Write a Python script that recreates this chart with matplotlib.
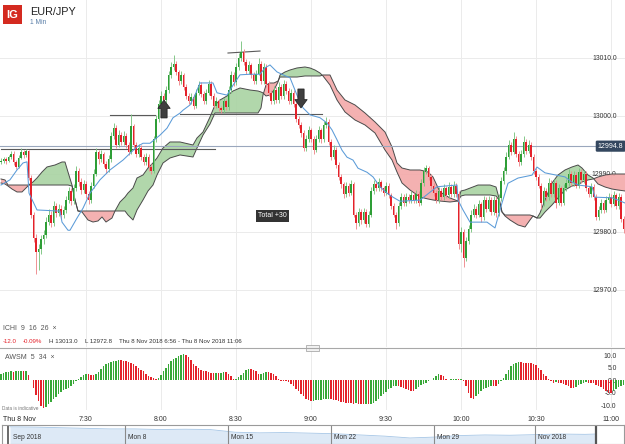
import numpy as np
import matplotlib
matplotlib.use('Agg')
import matplotlib.pyplot as plt
from matplotlib.patches import Polygon, Rectangle
from matplotlib.lines import Line2D
import matplotlib.transforms as mtransforms

plt.rcParams['font.family'] = ['Liberation Sans', 'DejaVu Sans']

# ---------------- data ----------------
symbol = "EUR/JPY"
interval = "1 Min"
start_time = (6, 56)
time_labels = ['7:30', '8:00', '8:30', '9:00', '9:30', '10:00', '10:30', '11:00']
price_ticks = [12970.0, 12980.0, 12990.0, 13000.0, 13010.0]
awsm_ticks = [-10.0, -5.0, 0.0, 5.0, 10.0]

open0 = 12992.0
close = [
 12992.2, 12992.5, 12992.3, 12992.9, 12993.5, 12992.0, 12991.2, 12992.8, 12993.8, 12993.2,
 12993.9, 12989.3, 12983.0, 12979.0, 12976.5, 12977.0, 12978.8, 12979.5, 12981.8, 12983.0,
 12981.5, 12984.5, 12983.2, 12984.0, 12982.9, 12983.8, 12985.5, 12987.0, 12985.3, 12987.5,
 12990.5, 12988.7, 12987.3, 12988.3, 12986.5, 12985.5, 12988.0, 12990.0, 12993.8, 12992.5,
 12993.4, 12991.8, 12990.8, 12992.5, 12996.5, 12998.0, 12995.0, 12996.8, 12995.5, 12996.5,
 12995.0, 12993.8, 12998.2, 12995.0, 12993.5, 12994.5, 12993.0, 12992.0, 12993.0, 12991.2,
 12990.6, 12996.0, 12999.5, 13002.0, 13003.5, 13002.8, 13004.5, 13007.0, 13008.5, 13009.0,
 13007.5, 13006.0, 13007.0, 13005.0, 13003.5, 13002.5, 13003.3, 13001.8, 13004.0, 13005.3,
 13003.8, 13002.5, 13004.0, 13005.5, 13003.5, 13001.8, 13002.5, 13001.3, 13001.0, 13002.5,
 13001.5, 13004.5, 13007.0, 13005.8, 13008.5, 13010.0, 13011.0, 13009.3, 13007.8, 13008.8,
 13007.0, 13006.0, 13007.3, 13009.0, 13006.0, 13008.5, 13005.5, 13004.0, 13002.5, 13004.5,
 13002.8, 13005.0, 13003.5, 13005.5, 13004.3, 13002.5, 13004.0, 13002.0, 12999.5, 12998.5,
 12997.0, 12994.5, 12996.0, 12997.5, 12996.0, 12994.2, 12996.0, 12997.5, 12996.0, 12998.5,
 12999.0, 12995.5, 12993.0, 12994.2, 12991.5, 12989.5, 12988.2, 12986.5, 12988.0, 12986.8,
 12988.3, 12983.0, 12981.5, 12983.5, 12982.0, 12983.5, 12981.3, 12983.0, 12987.0, 12988.2,
 12987.5, 12988.6, 12987.5, 12986.8, 12988.0, 12986.3, 12984.5, 12983.0, 12981.5, 12984.5,
 12986.0, 12985.0, 12986.0, 12985.5, 12986.3, 12985.5, 12986.5, 12985.0, 12988.5, 12990.5,
 12991.0, 12989.5, 12988.0, 12986.8, 12985.5, 12987.0, 12986.0, 12987.5, 12986.3, 12987.8,
 12986.5, 12988.0, 12986.5, 12978.0, 12980.0, 12975.5, 12978.5, 12980.5, 12983.0, 12984.0,
 12983.0, 12984.8, 12982.5, 12985.5, 12984.0, 12985.5, 12983.5, 12985.5, 12983.2, 12985.8,
 12988.8, 12990.5, 12993.0, 12995.0, 12993.8, 12996.0, 12993.5, 12992.0, 12993.5, 12995.5,
 12994.0, 12995.0, 12993.0, 12990.5, 12989.5, 12988.0, 12985.0, 12987.0, 12986.0, 12988.5,
 12986.5, 12988.5, 12985.0, 12987.5, 12985.0, 12987.5, 12988.5, 12990.0, 12988.5, 12989.8,
 12988.0, 12990.3, 12989.0, 12990.0, 12987.5, 12986.5, 12987.8, 12986.0, 12982.5, 12983.8,
 12985.0, 12983.8, 12985.5, 12986.0, 12984.8, 12986.3, 12984.5, 12986.0, 12982.3, 12980.5,
 12980.0]

high = [
 12992.7, 12993.0, 12992.9, 12993.3, 12994.0, 12993.9, 12992.4, 12993.3, 12994.4, 12994.2,
 12994.3, 12994.2, 12989.8, 12983.5, 12979.6, 12978.0, 12979.4, 12980.3, 12982.6, 12984.0,
 12983.6, 12985.3, 12985.0, 12984.8, 12984.6, 12984.5, 12986.2, 12987.8, 12987.6, 12988.2,
 12991.3, 12991.0, 12989.3, 12989.0, 12988.8, 12987.0, 12988.7, 12990.8, 12994.4, 12994.2,
 12994.2, 12993.8, 12992.3, 12993.2, 12997.2, 12998.8, 12998.4, 12997.6, 12997.3, 12997.4,
 12997.0, 12995.5, 13000.3, 12998.6, 12995.6, 12995.2, 12995.0, 12993.5, 12993.7, 12993.4,
 12991.8, 12996.6, 13000.2, 13002.8, 13004.3, 13004.0, 13005.2, 13007.8, 13009.3, 13010.5,
 13009.5, 13008.0, 13007.7, 13007.4, 13005.5, 13004.0, 13004.0, 13003.8, 13004.7, 13006.0,
 13005.8, 13004.3, 13004.6, 13006.2, 13006.0, 13004.0, 13003.2, 13003.0, 13001.8, 13003.1,
 13003.0, 13005.2, 13007.7, 13007.5, 13009.2, 13010.8, 13013.0, 13011.5, 13009.8, 13009.5,
 13009.2, 13007.5, 13008.0, 13010.0, 13009.4, 13009.2, 13008.9, 13006.0, 13004.5, 13005.2,
 13005.0, 13005.8, 13005.5, 13006.2, 13006.0, 13004.8, 13004.7, 13004.4, 13002.4, 13000.0,
 12999.0, 12997.5, 12996.7, 12998.2, 12998.0, 12996.5, 12996.8, 12998.3, 12998.0, 12999.2,
 12999.8, 12999.4, 12996.0, 12995.0, 12994.6, 12992.0, 12990.0, 12988.6, 12988.7, 12988.5,
 12989.0, 12988.7, 12983.5, 12984.2, 12984.0, 12984.2, 12984.0, 12983.7, 12987.7, 12989.0,
 12988.8, 12989.3, 12989.0, 12988.0, 12988.7, 12988.5, 12986.8, 12985.0, 12983.5, 12985.2,
 12986.7, 12986.5, 12986.7, 12986.5, 12987.0, 12986.8, 12987.2, 12987.0, 12989.2, 12991.2,
 12991.5, 12991.4, 12990.0, 12988.5, 12987.2, 12987.7, 12987.5, 12988.2, 12988.0, 12988.6,
 12988.3, 12988.8, 12988.4, 12987.0, 12980.8, 12980.5, 12979.2, 12981.2, 12983.8, 12984.8,
 12984.5, 12985.5, 12985.2, 12986.2, 12986.0, 12986.2, 12986.0, 12986.2, 12986.0, 12986.5,
 12989.5, 12991.2, 12993.8, 12995.8, 12995.5, 12997.2, 12996.5, 12994.0, 12994.2, 12996.6,
 12996.0, 12995.8, 12995.5, 12993.5, 12991.0, 12990.0, 12988.5, 12987.7, 12987.5, 12989.3,
 12989.0, 12989.2, 12989.0, 12988.2, 12988.0, 12988.2, 12989.2, 12990.8, 12990.5, 12990.5,
 12990.3, 12991.0, 12990.8, 12990.7, 12990.5, 12988.0, 12988.5, 12988.3, 12986.5, 12984.5,
 12985.7, 12985.5, 12986.2, 12986.7, 12986.5, 12987.0, 12986.8, 12986.7, 12986.5, 12982.8,
 12981.0]

low = [
 12991.7, 12991.9, 12991.8, 12992.0, 12992.6, 12991.6, 12990.8, 12991.0, 12992.5, 12992.7,
 12992.9, 12988.9, 12982.4, 12978.2, 12972.8, 12973.5, 12976.2, 12978.0, 12979.0, 12981.2,
 12980.8, 12981.0, 12982.5, 12982.8, 12982.2, 12982.4, 12983.2, 12985.0, 12984.6, 12984.8,
 12987.0, 12988.0, 12986.6, 12986.8, 12985.8, 12984.8, 12985.0, 12987.5, 12989.6, 12991.8,
 12992.0, 12991.2, 12990.2, 12990.4, 12992.0, 12996.0, 12994.4, 12994.6, 12995.0, 12995.0,
 12994.5, 12993.2, 12993.5, 12994.5, 12993.0, 12993.0, 12992.4, 12991.5, 12991.6, 12990.6,
 12990.0, 12990.2, 12995.6, 12999.0, 13001.5, 13002.2, 13002.3, 13004.0, 13006.6, 13008.0,
 13007.0, 13005.4, 13005.5, 13004.5, 13003.0, 13002.0, 13002.0, 13001.2, 13001.4, 13003.6,
 13003.3, 13002.0, 13002.0, 13003.6, 13003.0, 13001.3, 13001.3, 13000.8, 13000.5, 13000.6,
 13001.0, 13001.0, 13004.0, 13005.2, 13005.4, 13008.0, 13009.5, 13008.8, 13007.2, 13007.3,
 13006.5, 13005.5, 13005.6, 13007.0, 13005.5, 13005.6, 13005.0, 13003.4, 13002.0, 13002.0,
 13002.2, 13002.3, 13003.0, 13003.0, 13003.8, 13002.0, 13002.0, 13001.5, 12999.0, 12998.0,
 12996.4, 12994.0, 12994.0, 12995.6, 12995.5, 12993.5, 12993.8, 12995.5, 12995.4, 12995.6,
 12998.0, 12995.0, 12992.4, 12992.5, 12991.0, 12989.0, 12987.6, 12985.8, 12986.0, 12986.2,
 12986.3, 12982.5, 12980.6, 12981.0, 12981.4, 12981.6, 12980.8, 12980.9, 12982.6, 12986.5,
 12987.0, 12987.0, 12987.0, 12986.2, 12986.3, 12985.8, 12984.0, 12982.5, 12980.6, 12981.0,
 12984.0, 12984.5, 12984.5, 12985.0, 12985.0, 12985.0, 12985.0, 12984.4, 12984.6, 12988.0,
 12990.0, 12989.0, 12987.4, 12986.2, 12985.0, 12985.0, 12985.5, 12985.6, 12985.8, 12985.8,
 12986.0, 12986.0, 12986.0, 12977.0, 12976.5, 12974.0, 12975.0, 12978.0, 12980.0, 12982.5,
 12982.4, 12982.6, 12981.8, 12982.0, 12983.5, 12983.6, 12983.0, 12983.0, 12982.6, 12982.8,
 12985.4, 12988.3, 12990.0, 12992.6, 12993.2, 12993.4, 12993.0, 12991.4, 12991.6, 12993.0,
 12993.5, 12993.6, 12992.4, 12990.0, 12989.0, 12987.5, 12984.0, 12984.5, 12985.4, 12985.5,
 12986.0, 12986.0, 12984.2, 12984.6, 12984.4, 12984.6, 12987.0, 12988.0, 12988.0, 12988.0,
 12987.5, 12987.6, 12988.5, 12988.5, 12987.0, 12986.0, 12986.0, 12985.5, 12982.0, 12982.0,
 12983.3, 12983.3, 12983.4, 12985.0, 12984.3, 12984.4, 12984.0, 12984.0, 12981.7, 12979.8,
 12979.5]

# Ichimoku conversion line (minutes after 6:56, price)
tenkan_t = [0, 3.6, 6.4, 8.8, 10.4, 11.2, 14.4, 23.6, 24.4, 26.8, 27.6, 30.4, 32.8, 35.6, 39.6,
            43.6, 48.8, 54.4, 56.8, 59.6, 63.6, 66.4, 68.8, 71.6, 72.8, 75.6, 77.6, 79.6, 84.8,
            86.4, 90.4, 92.8, 95.6, 99.6, 103.6, 105.6, 107.6, 110.4, 112.8, 115.6, 118.4, 120.8,
            123.6, 127.6, 130.4, 132.4, 134.4, 136.4, 138.4, 140.8, 142.8, 146.4, 148.8, 151.6,
            154.4, 156.8, 159.6, 167.6, 174.4, 182.4, 182.8, 184.8, 187.6, 194.4, 197.6, 200.4,
            202.8, 206.8, 212.4, 214.4, 217.6, 225.6, 228.4, 230.8, 236.4, 237.6, 244.4, 246.8, 249.6]
tenkan_v = [12988.1, 12989.0, 12990.7, 12991.9, 12992.1, 12986.7, 12983.8, 12983.6, 12981.7, 12980.3,
            12980.3, 12982.4, 12984.1, 12986.7, 12989.0, 12990.7, 12992.4, 12994.7, 12995.3, 12995.3,
            12996.7, 12997.9, 12999.7, 13000.5, 13001.0, 13001.9, 13003.6, 13005.7, 13005.7, 13004.0,
            13003.6, 13005.3, 13007.1, 13007.2, 13007.2, 13008.3, 13008.8, 13007.6, 13007.1, 13006.6,
            13003.6, 13001.4, 13000.2, 12999.7, 12998.8, 12997.6, 12995.9, 12994.1, 12992.9, 12992.4,
            12991.0, 12990.3, 12989.5, 12987.8, 12986.7, 12986.0, 12985.3, 12985.5, 12987.8, 12988.1,
            12985.5, 12983.8, 12981.7, 12981.7, 12980.7, 12985.0, 12988.4, 12989.3, 12989.8, 12991.2,
            12990.2, 12989.5, 12988.6, 12988.1, 12987.8, 12986.0, 12985.9, 12985.5, 12985.0]

# Ichimoku cloud (leading spans)
span_t = [0, 1.6, 2.8, 4.4, 6.4, 8.4, 10.0, 11.6, 12.8, 14.4,
          16.4, 18.4, 21.6, 24.4, 25.6, 26.8, 28.4, 29.6, 30.8, 32.4,
          34.8, 36.8, 38.8, 40.4, 42.0, 44.4, 45.6, 47.6, 49.6, 50.8,
          52.8, 54.4, 56.8, 58.8, 60.8, 62.4, 64.8, 67.6, 71.6, 76.8,
          78.4, 80.8, 83.6, 85.6, 87.6, 90.4, 92.8, 95.6, 99.6, 102.8,
          104.0, 104.8, 106.0, 107.6, 109.2, 110.8, 111.6, 113.6, 115.6, 118.4,
          121.6, 123.6, 125.6, 127.6, 128.8, 131.6, 134.4, 137.6, 141.6, 145.6,
          149.6, 153.6, 156.4, 158.4, 160.4, 163.6, 167.6, 170.8, 172.8, 175.6,
          179.6, 182.8, 184.0, 185.6, 190.8, 195.6, 198.0, 199.2, 200.4, 201.6,
          203.6, 206.8, 209.6, 211.6, 212.8, 214.4, 215.6, 217.6, 220.4, 222.8,
          225.6, 228.4, 230.8, 232.4, 234.8, 236.8, 238.8, 241.6, 244.4, 246.8, 249.6]
span_a = [12988.45, 12988.28, 12987.93, 12987.41, 12986.90, 12986.90, 12987.59, 12988.28, 12988.62, 12989.31,
          12990.34, 12991.21, 12991.55, 12992.07, 12992.07, 12990.34, 12988.10, 12985.52, 12983.62, 12983.45,
          12982.07, 12981.72, 12981.90, 12982.59, 12981.72, 12982.41, 12983.62, 12985.17, 12986.03, 12986.72,
          12987.59, 12989.31, 12989.83, 12991.03, 12991.90, 12992.76, 12994.48, 12995.52, 12995.52, 12995.00,
          12996.21, 12997.24, 12999.83, 13001.90, 13002.76, 13003.45, 13004.31, 13004.83, 13004.48, 13004.31,
          13004.14, 13003.97, 13003.45, 13003.62, 13004.48, 13005.86, 13007.07, 13007.59, 13007.93, 13008.28,
          13008.45, 13008.28, 13007.93, 13007.41, 13006.90, 13005.34, 13002.76, 13000.69, 12999.31, 12998.45,
          12997.07, 12994.14, 12992.41, 12990.34, 12988.45, 12987.24, 12986.03, 12985.69, 12985.52, 12985.34,
          12985.17, 12985.34, 12987.07, 12987.24, 12988.10, 12988.10, 12987.76, 12985.86, 12983.45, 12982.76,
          12982.07, 12981.21, 12980.86, 12982.07, 12982.76, 12982.41, 12983.28, 12985.52, 12988.45, 12989.83,
          12990.69, 12991.21, 12991.55, 12991.03, 12989.83, 12989.31, 12988.28, 12987.76, 12987.41, 12987.24, 12987.07]
span_b = [12989.14, 12988.97, 12988.10, 12988.10, 12988.10, 12988.10, 12988.10, 12988.10, 12988.10, 12988.10,
          12988.10, 12988.10, 12988.10, 12988.10, 12988.10, 12988.10, 12987.93, 12985.52, 12983.62, 12983.62,
          12983.62, 12983.62, 12983.62, 12983.62, 12983.62, 12983.62, 12983.62, 12983.62, 12983.62, 12982.93,
          12982.07, 12983.79, 12985.52, 12987.07, 12988.10, 12989.83, 12991.90, 12992.76, 12993.28, 12992.93,
          12994.48, 12996.72, 12998.62, 13000.52, 13000.52, 13000.52, 13000.52, 13000.52, 13000.52, 13000.52,
          13001.38, 13003.62, 13005.34, 13005.69, 13005.69, 13006.03, 13006.72, 13006.72, 13006.72, 13006.72,
          13006.90, 13006.90, 13006.90, 13006.90, 13007.07, 13007.07, 13004.48, 13002.76, 13001.90, 13000.52,
          12998.97, 12997.24, 12994.66, 12991.90, 12991.03, 12990.69, 12990.69, 12990.34, 12989.48, 12986.90,
          12985.86, 12985.34, 12986.21, 12986.38, 12986.38, 12986.38, 12986.21, 12985.52, 12983.45, 12982.93,
          12982.93, 12982.93, 12982.93, 12982.93, 12982.76, 12982.41, 12982.41, 12983.45, 12984.66, 12985.86,
          12987.24, 12987.93, 12988.10, 12988.62, 12988.97, 12989.14, 12989.48, 12989.83, 12990.00, 12990.00, 12990.00]

# user-drawn trend lines: start/end minute, start/end price
line_t0 = [0.0, 43.6, 71.6, 90.8]
line_t1 = [85.6, 61.6, 128.4, 103.6]
line_p0 = [12994.26, 13000.17, 13000.43, 13010.86]
line_p1 = [12994.26, 13000.17, 13000.43, 13011.20]
marker_price = 12994.8

# trade arrows: minute, base price, tip price
arrow_t = [65.2, 120.0]
arrow_base = [12999.66, 13004.66]
arrow_tip = [13002.76, 13001.38]
total_t, total_p, total_text = 108.6, 12982.76, "Total +30"

# Awesome oscillator
awsm = [
 2.5, 3.0, 3.2, 3.4, 3.5, 3.4, 3.5, 3.6, 3.7, 3.6,
 3.7, 2.0, 0.2, -3.0, -6.0, -8.5, -10.3, -11.0, -10.6, -9.6,
 -8.6, -7.6, -6.6, -5.6, -4.7, -4.1, -3.5, -3.0, -2.4, -1.5,
 -0.5, 0.5, 1.4, 2.1, 2.5, 2.3, 2.1, 1.9, 2.5, 3.2,
 4.5, 5.5, 6.4, 6.9, 7.2, 7.5, 7.8, 8.2, 8.0, 7.8,
 7.5, 7.2, 6.8, 6.4, 5.8, 5.0, 4.2, 3.5, 2.6, 1.8,
 1.2, 0.8, 0.3, 0.9, 2.2, 3.5, 5.0, 6.4, 7.5, 8.3,
 9.0, 9.5, 10.0, 10.4, 10.2, 9.4, 8.0, 6.6, 5.6, 4.8,
 4.2, 3.8, 3.5, 3.2, 3.0, 2.9, 3.0, 2.8, 3.0, 3.2,
 3.1, 2.5, 1.5, 0.5, 0.6, 1.1, 2.0, 3.0, 4.0, 4.5,
 4.4, 4.2, 3.5, 2.5, 2.6, 2.9, 3.3, 3.2, 3.0, 2.4,
 1.5, 0.5, -0.2, -0.3, -0.5, -0.8, -1.5, -2.5, -3.5, -4.5,
 -5.5, -6.5, -7.4, -8.1, -8.5, -8.3, -8.1, -7.9, -7.8, -7.6,
 -7.5, -7.4, -7.6, -7.8, -8.0, -8.3, -8.6, -8.8, -9.0, -9.2,
 -9.3, -9.4, -9.3, -9.4, -9.5, -9.6, -9.6, -9.7, -9.5, -9.2,
 -8.5, -7.5, -6.5, -5.5, -4.6, -3.6, -3.0, -2.5, -2.2, -2.4,
 -2.7, -3.1, -3.6, -4.0, -4.3, -4.4, -3.6, -2.8, -2.0, -1.5,
 -1.0, -0.5, 0.2, 1.0, 1.8, 2.6, 2.2, 1.5, 0.6, 0.2,
 0.3, 0.4, 0.5, 0.3, 0.4, -0.5, -2.5, -5.0, -7.0, -7.4,
 -6.5, -5.5, -4.5, -3.6, -3.0, -2.6, -2.2, -2.3, -2.4, -1.5,
 -0.5, 1.0, 2.5, 4.0, 5.5, 6.5, 7.0, 7.3, 7.1, 7.0,
 6.9, 6.8, 6.7, 6.5, 6.0, 5.0, 4.0, 2.5, 1.5, 0.5,
 -0.5, -1.0, -0.9, -1.1, -1.3, -1.6, -2.0, -2.5, -3.0, -3.2,
 -2.6, -2.0, -1.5, -1.0, -0.8, -1.0, -1.1, -1.3, -1.8, -2.2,
 -2.8, -3.5, -4.4, -5.0, -5.1, -4.4, -3.5, -2.8, -2.2, -2.0,
 -2.5]

# navigator (daily overview)
nav_x = [10, 35, 60, 85, 110, 135, 160, 185, 210, 235, 260, 285, 310,
         335, 360, 385, 410, 435, 460, 485, 510, 535, 560, 585, 596]
nav_vals = [130.7, 130.6, 130.4, 130.2, 130.0, 130.0, 129.8, 129.9, 129.8, 128.9, 128.7, 128.8, 128.6,
            128.4, 128.0, 127.6, 127.0, 127.3, 127.8, 128.0, 127.9, 128.1, 128.3, 128.2, 128.3]
nav_labels = ['Sep 2018', 'Mon 8', 'Mon 15', 'Mon 22', 'Mon 29', 'Nov 2018']
nav_label_x = [10, 125, 228, 331, 434, 535]

info_change = "-12.0"
info_pct = "-0.09%"
info_high = "H 13013.0"
info_low = "L 12972.8"
info_range = "Thu 8 Nov 2018 6:56 - Thu 8 Nov 2018 11:06"

# ---------------- layout ----------------
W, H = 625, 444
fig = plt.figure(figsize=(W / 100, H / 100), dpi=100)
fig.patch.set_facecolor('white')

def box(x0, y0, x1, y1):
    return [x0 / W, 1 - y1 / H, (x1 - x0) / W, (y1 - y0) / H]

def ftext(x, y, s, **kw):
    return fig.text(x / W, 1 - y / H, s, **kw)

GREEN = '#2e9e36'
RED = '#e4212a'
GRID = '#ebebeb'

t0 = start_time[0] * 60 + start_time[1]
time_ticks = [int(s.split(':')[0]) * 60 + int(s.split(':')[1]) - t0 for s in time_labels]
XMIN, XMAX = -0.4, 249.6

# ---- main price panel ----
ax = fig.add_axes(box(0, 0, 625, 347))
ax.set_xlim(XMIN, XMAX)
ax.set_ylim(12960.17, 13020.0)
for s in ax.spines.values():
    s.set_visible(False)
ax.set_xticks(time_ticks)
ax.tick_params(axis='x', length=0, labelbottom=False)
ax.yaxis.tick_right()
ax.set_yticks(price_ticks)
ax.set_yticklabels([f'{v:.1f}' for v in price_ticks])
ax.tick_params(axis='y', length=0, pad=-6, labelsize=4.9, labelcolor='#333333')
for lab in ax.get_yticklabels():
    lab.set_horizontalalignment('right')
ax.grid(True, color=GRID, lw=0.7)
ax.set_axisbelow(True)

st = np.array(span_t); sa = np.array(span_a); sb = np.array(span_b)
ax.fill_between(st, sa, sb, where=sa >= sb, interpolate=True, color='#a9d3a2', alpha=0.9, lw=0, zorder=2)
ax.fill_between(st, sa, sb, where=sa < sb, interpolate=True, color='#f3a9a9', alpha=0.9, lw=0, zorder=2)
ax.plot(st, sa, color='#4a4a4a', lw=0.7, zorder=3)
ax.plot(st, sb, color='#4a4a4a', lw=0.7, zorder=3)

ax.axhline(marker_price, color='#9aa7bd', lw=0.8, zorder=3)
for a0, a1, p0, p1 in zip(line_t0, line_t1, line_p0, line_p1):
    ax.plot([a0, a1], [p0, p1], color='#5a5a5a', lw=0.8, zorder=3)

c = np.array(close)
o = np.concatenate([[open0], c[:-1]])
hi = np.array(high); lo = np.array(low)
t = np.arange(len(c))
up = c >= o
body_lo = np.minimum(o, c)
body_h = np.maximum(np.abs(c - o), 0.15)
ax.vlines(t, lo, hi, colors=np.where(up, '#7cc481', '#ef8a8d'), lw=0.65, zorder=4)
ax.bar(t, body_h, bottom=body_lo, width=0.7, color=np.where(up, GREEN, RED), lw=0, zorder=5)

ax.plot(tenkan_t, tenkan_v, color='#5b9bd8', lw=0.75, zorder=6)

for at, ab, ap in zip(arrow_t, arrow_base, arrow_tip):
    d = np.sign(ap - ab)
    neck = ap - d * 1.45
    hw, sw = 2.5, 1.25
    pts = [(at, ap), (at - hw, neck), (at - sw, neck), (at - sw, ab),
           (at + sw, ab), (at + sw, neck), (at + hw, neck)]
    ax.add_patch(Polygon(pts, closed=True, fc='#3f3f3f', ec='#1e1e1e', lw=0.5, zorder=7))

ax.text(total_t, total_p, total_text, ha='center', va='center', fontsize=5, color='white', zorder=8,
        bbox=dict(boxstyle='square,pad=0.3', fc='#333333', ec='none'))

trans = mtransforms.blended_transform_factory(ax.transAxes, ax.transData)
ax.text(0.9975, marker_price, f'{marker_price:.1f}', transform=trans, ha='right', va='center',
        fontsize=5, color='white', zorder=9,
        bbox=dict(boxstyle='round,pad=0.3,rounding_size=0.2', fc='#34475f', ec='none'))

# ---- header ----
fig.add_artist(Rectangle((3 / W, 1 - 24 / H), 19 / W, 19 / H, transform=fig.transFigure,
                         fc='#d42a20', ec='none'))
ftext(12.5, 15, 'IG', ha='center', va='center', fontsize=8, color='white', fontweight='bold')
ftext(30, 12, symbol, ha='left', va='center', fontsize=7.8, color='#222222')
ftext(30, 22, interval, ha='left', va='center', fontsize=4.8, color='#5a7fa8')

# ---- indicator header ----
ftext(3, 329, 'ICHI  9  16  26  \u00d7', ha='left', va='center', fontsize=5, color='#555555')
ftext(3, 341, info_change, ha='left', va='center', fontsize=4.4, color=RED)
ftext(23, 341, info_pct, ha='left', va='center', fontsize=4.4, color=RED)
ftext(49, 341, info_high, ha='left', va='center', fontsize=4.4, color='#333333')
ftext(85, 341, info_low, ha='left', va='center', fontsize=4.4, color='#333333')
ftext(119, 341, info_range, ha='left', va='center', fontsize=4.4, color='#333333')

fig.add_artist(Line2D([0, 1], [1 - 348 / H] * 2, transform=fig.transFigure, color='#a8a8a8', lw=0.8))
fig.add_artist(Rectangle((306 / W, 1 - 351 / H), 13 / W, 6 / H, transform=fig.transFigure,
                         fc='#f2f2f2', ec='#9a9a9a', lw=0.5))

# ---- AWSM panel ----
ax2 = fig.add_axes(box(0, 349, 625, 410))
ax2.set_xlim(XMIN, XMAX)
ax2.set_ylim(-12.0, 12.4)
for s in ax2.spines.values():
    s.set_visible(False)
aw = np.array(awsm)
rising = np.concatenate([[True], aw[1:] >= aw[:-1]])
ax2.bar(np.arange(len(aw)), aw, width=0.68, color=np.where(rising, '#38a838', '#e4232b'), lw=0, zorder=3)
ax2.set_xticks(time_ticks)
ax2.set_xticklabels(time_labels)
ax2.tick_params(axis='x', length=0, pad=4, labelsize=5, labelcolor='#333333')
ax2.yaxis.tick_right()
ax2.set_yticks(awsm_ticks)
ax2.set_yticklabels([f'{v:.1f}' for v in awsm_ticks])
ax2.tick_params(axis='y', length=0, pad=-6, labelsize=4.9, labelcolor='#333333')
for lab in ax2.get_yticklabels():
    lab.set_horizontalalignment('right')
ax2.grid(True, axis='x', color=GRID, lw=0.7)
ax2.set_axisbelow(True)
ftext(5, 357, 'AWSM  5  34  \u00d7', ha='left', va='center', fontsize=5, color='#555555')
ftext(2, 408, 'Data is indicative', ha='left', va='center', fontsize=3.4, color='#777777')
ftext(3, 419, 'Thu 8 Nov', ha='left', va='center', fontsize=5, color='#222222')

# ---- navigator ----
ax3 = fig.add_axes(box(2, 425, 624, 444))
ax3.set_xlim(2, 624)
ax3.set_ylim(125.0, 131.3)
for s in ax3.spines.values():
    s.set_color('#9a9a9a'); s.set_linewidth(0.8)
ax3.set_xticks([]); ax3.set_yticks([])
ax3.fill_between(nav_x, nav_vals, 125.0, color='#dde9f6', lw=0)
ax3.plot(nav_x, nav_vals, color='#a6c6e6', lw=0.6)
for xv in nav_label_x[1:]:
    ax3.axvline(xv, color='#8a8a8a', lw=0.8)
ax3.axvline(nav_x[0] - 2, color='#6a6a6a', lw=1.4)
ax3.axvline(nav_x[-1], color='#555555', lw=1.6)
for xv, s in zip(nav_label_x, nav_labels):
    ax3.text(xv + 3, 126.0, s, ha='left', va='bottom', fontsize=4.8, color='#333333')

fig.savefig('out.png', dpi=100, facecolor='white')
